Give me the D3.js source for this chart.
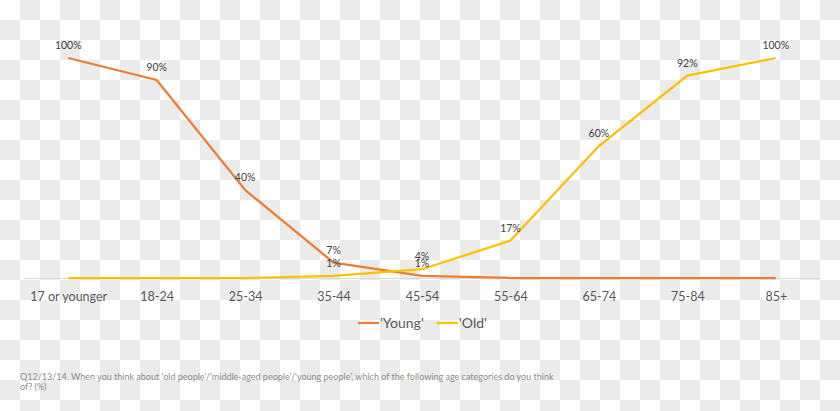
<!DOCTYPE html>
<html>
<head>
<meta charset="utf-8">
<script src="https://cdn.jsdelivr.net/npm/d3@7"></script>
<style>
  body { margin: 0; background: #fff; }
  svg text { font-family: Lato, "Open Sans", sans-serif; }
</style>
</head>
<body>
<div id="chart"></div>
<script>
// chart data
var categories = ["17 or younger", "18-24", "25-34", "35-44", "45-54", "55-64", "65-74", "75-84", "85+"];
var young = [100, 90, 40, 7, 1, 0, 0, 0, 0];
var old = [0, 0, 0, 1, 4, 17, 60, 92, 100];
var seriesNames = ["'Young'", "'Old'"];
var seriesColors = ["#ED7D31", "#FFC000"];
var footnote = ["Q12/13/14. When you think about \u2018old people\u2019/\u2018middle-aged people\u2019/\u2018young people\u2019, which of the following age categories do you think",
                "of? (%)"];

var width = 840;
var height = 411;

var svg = d3.select("#chart").append("svg")
  .attr("width", width)
  .attr("height", height);

// transparent-style checker background
var cell = 20;
var cells = [];
for (var j = 0; j < Math.ceil(height / cell); j++)
  for (var i = 0; i < Math.ceil(width / cell); i++)
    if ((i + j) % 2 == 1) cells.push([i, j]);

svg.append("g").selectAll("rect")
  .data(cells)
  .enter().append("rect")
  .attr("x", function(d) { return d[0] * cell; })
  .attr("y", function(d) { return d[1] * cell; })
  .attr("width", cell)
  .attr("height", cell)
  .attr("fill", "#ebebeb");

var x = d3.scalePoint()
  .domain(categories)
  .range([24, 820])
  .padding(0.5);

var y = d3.scaleLinear()
  .domain([0, 100])
  .range([278, 58]);

// category axis
var xAxis = svg.append("g")
  .attr("transform", "translate(0," + y(0) + ")")
  .call(d3.axisBottom(x).tickSize(0).tickPadding(14));
xAxis.select(".domain").attr("stroke", "#d9d9d9").attr("stroke-width", 1);
xAxis.selectAll("text")
  .attr("fill", "#595959")
  .style("font-size", "12.5px")
  .style("font-family", "Lato, sans-serif");

var series = [young, old];
var line = d3.line()
  .x(function(d, i) { return x(categories[i]); })
  .y(function(d) { return y(d); });

series.forEach(function(values, k) {
  svg.append("path")
    .datum(values)
    .attr("d", line)
    .attr("fill", "none")
    .attr("stroke", seriesColors[k])
    .attr("stroke-width", 2.25);
});

// data labels (nonzero only)
series.forEach(function(values, k) {
  svg.append("g").selectAll("text")
    .data(values.map(function(v, i) { return { v: v, c: categories[i] }; })
      .filter(function(d) { return d.v > 0; }))
    .enter().append("text")
    .attr("x", function(d) { return x(d.c); })
    .attr("y", function(d) { return y(d.v) - 9; })
    .attr("text-anchor", "middle")
    .attr("fill", "#404040")
    .style("font-size", "10.5px")
    .text(function(d) { return d.v + "%"; });
});

// legend
var legendX = [358, 437];
seriesNames.forEach(function(name, k) {
  var g = svg.append("g").attr("transform", "translate(" + legendX[k] + ",323)");
  g.append("line")
    .attr("x1", 0).attr("x2", 21)
    .attr("stroke", seriesColors[k])
    .attr("stroke-width", 2.25);
  g.append("text")
    .attr("x", 22)
    .attr("y", 5)
    .attr("fill", "#595959")
    .style("font-size", "14px")
    .text(name);
});

// footnote
svg.append("g").selectAll("text")
  .data(footnote)
  .enter().append("text")
  .attr("x", 20)
  .attr("y", function(d, i) { return 380 + i * 10; })
  .attr("fill", "#8c8c8c")
  .style("font-size", "9px")
  .text(function(d) { return d; });
</script>
</body>
</html>
